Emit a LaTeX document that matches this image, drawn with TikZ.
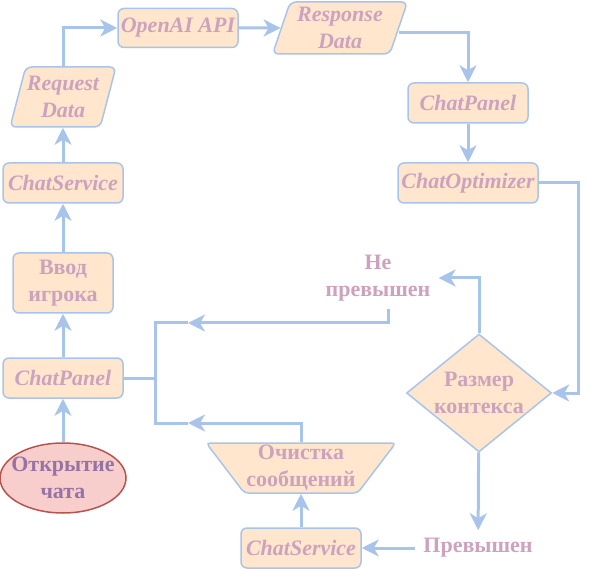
\documentclass[tikz,border=0pt]{standalone}
\usepackage{fontspec}
\setmainfont{Liberation Serif}
\usetikzlibrary{arrows.meta,shapes.geometric}
\definecolor{edge}{HTML}{A9C4EB}
\definecolor{peach}{HTML}{FFE6CC}
\definecolor{txt}{HTML}{CDA2BE}
\definecolor{rosef}{HTML}{F8CECC}
\definecolor{rosed}{HTML}{B85450}
\definecolor{purp}{HTML}{9673A6}
\tikzset{
  >={Stealth[length=17pt,width=17pt,inset=5pt]},
  box/.style={draw=edge,fill=peach,line width=1.5pt,rounded corners=6pt,inner sep=0pt,align=center,
    font=\fontsize{22}{27}\selectfont\bfseries,text=txt},
  ibox/.style={box,font=\fontsize{22}{27}\selectfont\bfseries\itshape},
  iobox/.style={ibox,trapezium,trapezium left angle=70,trapezium right angle=110,trapezium stretches=true},
  decbox/.style={box,diamond,rounded corners=0pt,inner sep=-12pt},
  manbox/.style={box,trapezium,shape border rotate=180,trapezium left angle=51,trapezium right angle=51,
    trapezium stretches=true,rounded corners=4pt},
  startbox/.style={box,ellipse,draw=rosed,fill=rosef,text=purp,rounded corners=0pt,inner xsep=-14pt,inner ysep=-6pt},
  lab/.style={font=\fontsize{22}{27}\selectfont\bfseries,text=txt,align=center,inner sep=8pt},
  arr/.style={->,draw=edge,line width=3pt},
  line/.style={draw=edge,line width=3pt},
}
\begin{document}
\begin{tikzpicture}[x=1pt,y=-1pt]
\useasboundingbox (0,0) rectangle (589,569);
% left column
\node[startbox,minimum width=126,minimum height=70] (open) at (63,478) {Открытие\\чата};
\node[ibox,minimum width=120,minimum height=40] (cpl) at (63,378) {ChatPanel};
\node[box,minimum width=100,minimum height=60] (input) at (63,283) {Ввод\\игрока};
\node[ibox,minimum width=120,minimum height=40] (csvt) at (63,183) {ChatService};
\node[iobox,minimum width=106,minimum height=60] (req) at (63,97) {Request\\Data};
% top row
\node[ibox,minimum width=120,minimum height=39] (api) at (178,28) {OpenAI API};
\node[iobox,minimum width=135,minimum height=52] (resp) at (340,28) {Response\\Data};
% right column
\node[ibox,minimum width=120,minimum height=40] (cpr) at (468,103) {ChatPanel};
\node[ibox,minimum width=140,minimum height=40] (copt) at (468,183) {ChatOptimizer};
\node[decbox,minimum width=145,minimum height=118] (size) at (479,393) {Размер\\контекса};
\node[lab] (notex) at (378,278) {Не\\превышен};
\node[lab] (exc) at (478,548) {Превышен};
% bottom
\node[ibox,minimum width=120,minimum height=40] (csvb) at (301,548) {ChatService};
\node[manbox,minimum width=190,minimum height=50] (clear) at (301,468) {Очистка\\сообщений};
\coordinate (brk) at (155,378);
\coordinate (lft1) at (188,323);
\coordinate (lft2) at (188,423);

\draw[arr] (open) -- (cpl);
\draw[arr] (cpl) -- (input);
\draw[arr] (input) -- (csvt);
\draw[arr] (csvt) -- (req);
\draw[arr] (req.north) |- (api);
\draw[arr] (api) -- (resp);
\draw[arr] ([yshift=-5pt]resp.east) -| (cpr);
\draw[arr] (cpr) -- (copt);
\draw[arr] (copt.east) -- ++(40,0) |- (size);
\draw[arr] (size.north) |- (notex);
\draw[arr] ([xshift=10pt]notex.south) |- (lft1);
\draw[arr] (size) -- (exc);
\draw[arr] (exc) -- (csvb);
\draw[arr] (csvb) -- (clear);
\draw[arr] (clear.north) |- (lft2);
\draw[line] (lft1) -| (brk) |- (lft2);
\draw[line] (cpl) -- (brk);
\end{tikzpicture}
\end{document}
